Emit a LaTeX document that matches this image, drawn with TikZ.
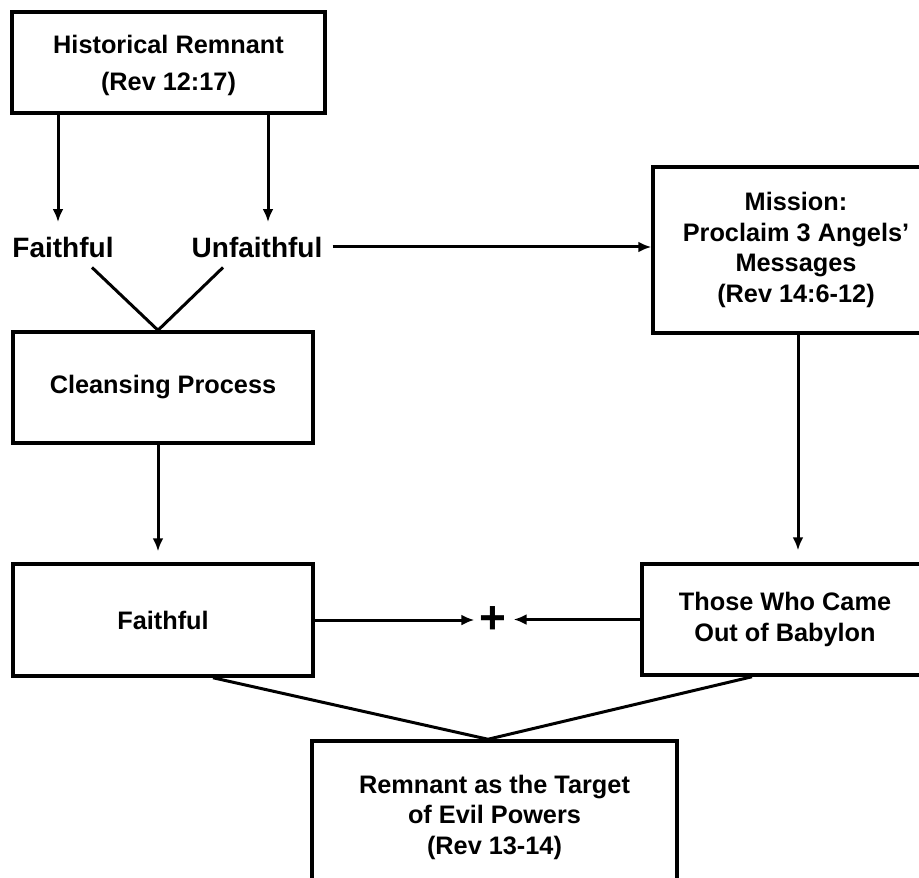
\documentclass[tikz,border=0pt]{standalone}
\usepackage{fontspec}
\setmainfont{Liberation Sans}
\usetikzlibrary{arrows.meta}
\begin{document}
\begin{tikzpicture}[x=1pt,y=-1pt,
  box/.style={draw, line width=3.5pt, inner sep=0pt, align=center,
    font=\bfseries\fontsize{25.3}{30.5}\selectfont},
  lbl/.style={inner sep=0pt, anchor=base, font=\bfseries\fontsize{28}{28}\selectfont},
  ln/.style={line width=3pt},
  arr/.style={line width=3pt, -{Latex[length=13pt,width=11pt]}}]
\fill[white] (0,0) rectangle (919,878);
\useasboundingbox (0,0) rectangle (919,878);

% boxes
\node[box, minimum width=313pt, minimum height=101pt, text depth=-4pt,
  font=\bfseries\fontsize{25.3}{37}\selectfont] (hist) at (168.5,62.5)
  {Historical Remnant\\(Rev 12:17)};
\node[box, minimum width=300pt, minimum height=111pt] (cleanse) at (163,387.5)
  {Cleansing Process};
\node[box, minimum width=300pt, minimum height=112pt] (faithbox) at (163,620)
  {Faithful};
\node[box, minimum width=286pt, minimum height=166pt] (mission) at (796,250)
  {Mission:\\Proclaim 3 Angels’\\Messages\\(Rev 14:6-12)};
\node[box, minimum width=286pt, minimum height=111pt] (babylon) at (785,619.5)
  {Those Who Came\\Out of Babylon};
\node[box, minimum width=365pt, minimum height=152pt] (remnant) at (494.5,817)
  {Remnant as the Target\\of Evil Powers\\(Rev 13-14)};

% labels
\node[lbl] (flab) at (63,257) {Faithful};
\node[lbl] (ulab) at (257,257) {Unfaithful};
\node[inner sep=0pt, font=\bfseries\fontsize{46}{46}\selectfont] (plus) at (493,620) {+};

% connectors
\draw[arr] ([xshift=-110.5pt]hist.south) -- ([xshift=-5pt,yshift=14.5pt]flab.north);
\draw[arr] ([xshift=99.5pt]hist.south) -- ([xshift=11pt,yshift=14.5pt]ulab.north);
\draw[ln] ([xshift=29pt,yshift=-10pt]flab.south) -- ([xshift=-5pt]cleanse.north)
  -- ([xshift=-34pt,yshift=-10pt]ulab.south);
\draw[arr, shorten >=11pt] ([xshift=-5pt]cleanse.south) -- ([xshift=-5pt]faithbox.north);
\draw[arr, shorten >=10pt] ([xshift=10pt]ulab.east) -- ([xshift=10pt]ulab.east -| mission.west);
\draw[arr, shorten >=12pt] ([xshift=2pt]mission.south) -- ([xshift=2pt]mission.south |- babylon.north);
\draw[arr, shorten >=5pt] (faithbox.east) -- (faithbox.east -| plus.west);
\draw[arr, shorten >=7pt] (babylon.west) -- (babylon.west -| plus.east);
\draw[ln] ([xshift=50pt]faithbox.south) -- ([xshift=-6.5pt]remnant.north)
  -- ([xshift=-33pt]babylon.south);
\end{tikzpicture}
\end{document}
